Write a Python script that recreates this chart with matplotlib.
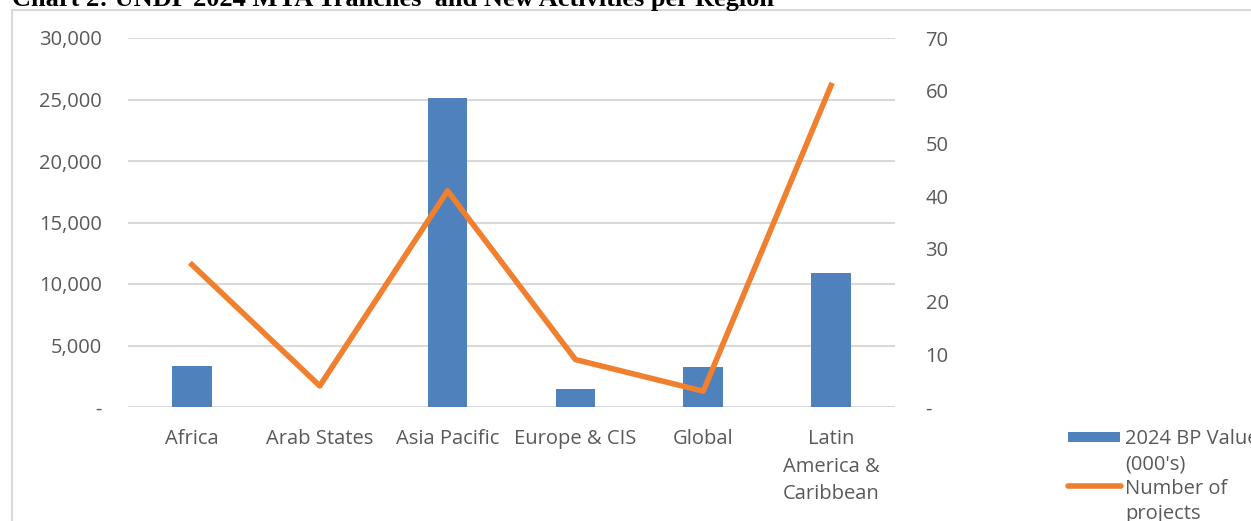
import matplotlib.pyplot as plt
from matplotlib.patches import Rectangle
from matplotlib.lines import Line2D
from matplotlib.ticker import FuncFormatter

plt.rcParams['font.family'] = ['Open Sans', 'DejaVu Sans']

# データ
regions = ['Africa', 'Arab States', 'Asia Pacific', 'Europe & CIS', 'Global',
           'Latin\nAmerica &\nCaribbean']
bp_value = [3330, 0, 25150, 1460, 3250, 10900]   # 2024 BP Value (000's)
n_projects = [27, 4, 41, 9, 3, 61]               # Number of projects
left_ticks = [0, 5000, 10000, 15000, 20000, 25000, 30000]
right_ticks = [0, 10, 20, 30, 40, 50, 60, 70]

blue = '#4f81bd'
orange = '#f07f2e'
grey_text = '#595959'
fs = 14.5

W, H = 1251, 521
fig = plt.figure(figsize=(W / 100, H / 100), dpi=100)

# 外枠
fig.patches.append(Rectangle((12 / W, -0.1), 1.2, 1.1 - 10 / H, transform=fig.transFigure,
                             fill=False, edgecolor='#d9d9d9', linewidth=1.5))

# タイトル (上端で切れている)
fig.text(12 / W, 1 - 6 / H, 'Chart 2: UNDP 2024 MYA Tranches  and New Activities per Region',
         family='Liberation Serif', fontsize=19, fontweight='bold', va='baseline', ha='left')

ax = fig.add_axes([128 / W, 1 - 407 / H, 767 / W, 369 / H])
x = list(range(len(regions)))
ax.bar(x, bp_value, width=0.31, color=blue, zorder=2)
ax.set_xlim(-0.5, len(regions) - 0.5)
ax.set_ylim(0, 30000)
ax.set_yticks(left_ticks)
ax.yaxis.set_major_formatter(FuncFormatter(lambda v, p: '-' if v == 0 else f'{v:,.0f}'))
ax.grid(axis='y', color='#d9d9d9', linewidth=1.5, zorder=0)
ax.set_xticks(x)
ax.set_xticklabels(regions, fontsize=fs, color=grey_text, linespacing=1.5)
for s in ax.spines.values():
    s.set_visible(False)
ax.tick_params(axis='both', length=0, labelsize=fs, labelcolor=grey_text)
ax.tick_params(axis='x', pad=16)
ax.tick_params(axis='y', pad=19)

ax2 = ax.twinx()
ax2.plot(x, n_projects, color=orange, linewidth=4, zorder=3)
ax2.set_ylim(0, 70)
ax2.set_yticks(right_ticks)
ax2.yaxis.set_major_formatter(FuncFormatter(lambda v, p: '-' if v == 0 else f'{v:.0f}'))
for s in ax2.spines.values():
    s.set_visible(False)
ax2.tick_params(axis='y', length=0, labelsize=fs, labelcolor=grey_text, pad=22)

# 凡例 (ハンドルは1行目に揃える)
fig.patches.append(Rectangle((1068 / W, 1 - 442 / H), 52 / W, 10 / H, transform=fig.transFigure,
                             facecolor=blue, edgecolor='none'))
fig.lines.append(Line2D([1068 / W, 1121 / W], [1 - 486 / H, 1 - 486 / H], transform=fig.transFigure,
                        color=orange, linewidth=4, solid_capstyle='round'))
legend_lines = [("2024 BP Value", 437), ("(000's)", 462), ('Number of', 486), ('projects', 511)]
for txt, yy in legend_lines:
    fig.text(1125 / W, 1 - yy / H, txt, fontsize=fs, color=grey_text,
             va='center_baseline', ha='left')

plt.savefig('out.png', dpi=100)
